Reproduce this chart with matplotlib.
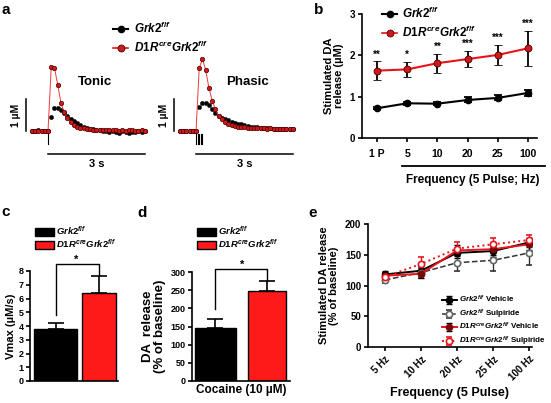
import matplotlib
matplotlib.use("Agg")
import matplotlib.pyplot as plt
import numpy as np
from matplotlib.lines import Line2D
from matplotlib.patches import Patch

plt.rcParams['font.family'] = ['Liberation Sans', 'DejaVu Sans']
plt.rcParams['font.weight'] = 'bold'
plt.rcParams['axes.labelweight'] = 'bold'
plt.rcParams['mathtext.fontset'] = 'custom'
plt.rcParams['mathtext.rm'] = 'Liberation Sans:bold'
plt.rcParams['mathtext.it'] = 'Liberation Sans:italic:bold'
plt.rcParams['mathtext.bf'] = 'Liberation Sans:bold'
plt.rcParams['axes.linewidth'] = 1.2
plt.rcParams['xtick.major.width'] = 1.2
plt.rcParams['ytick.major.width'] = 1.2
plt.rcParams['xtick.major.size'] = 3
plt.rcParams['ytick.major.size'] = 3

GRK = r'$Grk2^{f/f}$'
D1R = r'$D1R^{cre}Grk2^{f/f}$'

# ---- a: example traces (uM), sampled every 0.1 s from -0.5 s
t = np.round(np.arange(-0.5, 3.05, 0.1), 1)
tonic_ctrl = [0.01, 0.00, 0.02, 0.01, 0.00, 0.01,
              0.45, 0.72, 0.72, 0.66, 0.56, 0.46, 0.37, 0.30, 0.24, 0.19,
              0.14, 0.10, 0.07, 0.05, 0.03, 0.02, 0.01, -0.01, -0.03, 0.00,
              -0.02, -0.05, -0.01, -0.03, -0.06, -0.04, -0.02, 0.00, -0.03, -0.01]
tonic_ko = [0.00, 0.01, 0.00, 0.01, 0.00, 0.00,
            2.00, 1.97, 1.45, 0.88, 0.58, 0.42, 0.28, 0.19, 0.14, 0.10,
            0.08, 0.06, 0.05, 0.04, 0.03, 0.03, 0.02, 0.02, 0.02, 0.02,
            0.02, 0.01, 0.02, 0.01, 0.02, 0.02, 0.01, 0.01, 0.02, 0.01]
phasic_ctrl = [0.00, 0.01, 0.00, 0.01, 0.00, 0.01,
               0.75, 0.86, 0.88, 0.80, 0.68, 0.57, 0.48, 0.42, 0.37, 0.33,
               0.29, 0.26, 0.23, 0.21, 0.18, 0.16, 0.14, 0.13, 0.11, 0.10,
               0.09, 0.08, 0.08, 0.07, 0.06, 0.06, 0.05, 0.06, 0.05, 0.05]
phasic_ko = [0.00, 0.00, 0.01, 0.00, 0.00, 0.00,
             1.97, 2.25, 1.90, 1.35, 0.95, 0.68, 0.47, 0.36, 0.28, 0.23,
             0.19, 0.16, 0.14, 0.12, 0.11, 0.10, 0.10, 0.09, 0.09, 0.08,
             0.08, 0.07, 0.08, 0.07, 0.06, 0.07, 0.06, 0.06, 0.07, 0.06]
tonic_pulses = [0.0]
phasic_pulses = [0.0, 0.05, 0.10, 0.15, 0.20]

# ---- b
b_labels = ['1 P', '5', '10', '20', '25', '100']
b_ctrl = [0.72, 0.84, 0.83, 0.92, 0.97, 1.09]
b_ctrl_err = [0.03, 0.03, 0.03, 0.06, 0.06, 0.08]
b_ko = [1.63, 1.66, 1.81, 1.91, 2.01, 2.17]
b_ko_err = [0.23, 0.19, 0.23, 0.20, 0.25, 0.42]
b_stars = ['**', '*', '**', '***', '***', '***']

# ---- c
c_vals = [3.76, 6.42]
c_err = [0.43, 1.22]

# ---- d
d_vals = [145, 248]
d_err = [27, 27]

# ---- e
e_labels = ['5 Hz', '10 Hz', '20 Hz', '25 Hz', '100 Hz']
e_ctrl_veh = [118, 124, 153, 156, 170]
e_ctrl_veh_err = [6, 7, 8, 9, 8]
e_ctrl_sul = [109, 121, 137, 141, 153]
e_ctrl_sul_err = [5, 8, 14, 17, 19]
e_ko_veh = [116, 119, 157, 159, 167]
e_ko_veh_err = [5, 6, 9, 10, 9]
e_ko_sul = [114, 135, 160, 167, 174]
e_ko_sul_err = [6, 11, 11, 11, 8]

W, H = 551, 403
fig = plt.figure(figsize=(W / 100, H / 100), dpi=100)


def px_axes(l, t_, r, b):
    return fig.add_axes([l / W, 1 - b / H, (r - l) / W, (b - t_) / H])


def fx(x):
    return x / W


def fy(y):
    return 1 - y / H


RED = '#e8141c'

# ================= a =================
for left, ctrl, ko, pulses, name in [(15.7, tonic_ctrl, tonic_ko, tonic_pulses, 'Tonic'),
                                      (163.7, phasic_ctrl, phasic_ko, phasic_pulses, 'Phasic')]:
    ax = px_axes(left, 54.2, left + 135.7, 179)
    ax.set_xlim(-1.0, 3.2)
    ax.set_ylim(-1.5, 2.4)
    ax.axis('off')
    ax.plot(t, ctrl, 'o', color='black', ms=3.1, mew=0.4, mec='#222222')
    ax.plot(t, ko, '-o', color='#f03a3a', lw=0.7, ms=3.2, mfc='#cc1a1a',
            mec='#500000', mew=0.5)
    ax.plot([-0.68, -0.68], [0, 1], color='black', lw=1.1, clip_on=False)
    ax.text(-0.98, 0.5, '1 µM', rotation=90, ha='center', va='center',
            fontsize=7.5, clip_on=False)
    for p in pulses:
        ax.plot([p, p], [-0.1, -0.4], color='black', lw=0.8)
    ax.plot([0, 3], [-0.72, -0.72], color='black', lw=1.1)
    ax.text(1.5, -0.86, '3 s', ha='center', va='top', fontsize=8)
    ax.text(1.45 if name == 'Tonic' else 1.58, 1.53, name, ha='center',
            va='center', fontsize=9.5)

h_ctrl = Line2D([], [], color='black', lw=1.5, marker='o', ms=4.5)
h_ko = Line2D([], [], color=RED, lw=1.2, marker='o', ms=5, mfc='#cc1a1a',
              mec='#500000', mew=0.6)
fig.legend([h_ctrl, h_ko], [GRK, D1R], loc='upper left',
           bbox_to_anchor=(fx(107), fy(15)), frameon=False, fontsize=8.5,
           handlelength=1.3, handletextpad=0.5, borderpad=0,
           labelspacing=0.35)

# ================= b =================
axb = px_axes(362, 14, 537, 138)
xb = np.arange(len(b_labels))
axb.errorbar(xb, b_ctrl, yerr=b_ctrl_err, color='black', lw=1.5,
             marker='o', ms=4.5, capsize=3, elinewidth=1.3, capthick=1.3)
axb.errorbar(xb, b_ko, yerr=b_ko_err, color=RED, lw=1.5, marker='o', ms=5,
             mfc='#d01818', mec='#500000', mew=0.6, ecolor='black',
             capsize=3, elinewidth=1.3, capthick=1.3)
for x, v, e, s in zip(xb, b_ko, b_ko_err, b_stars):
    axb.text(x, v + e + 0.04, s, ha='center', va='bottom', fontsize=7)
axb.set_xlim(-0.5, 5.3)
axb.set_ylim(0, 3)
axb.set_yticks([0, 1, 2, 3])
axb.set_xticks(xb)
axb.set_xticklabels(b_labels)
axb.tick_params(labelsize=7.5, pad=5)
axb.tick_params(axis='y', labelsize=7, pad=2)
for s in ['top', 'right']:
    axb.spines[s].set_visible(False)
axb.set_ylabel('Stimulated DA\nrelease (µM)', fontsize=8, labelpad=4,
               linespacing=1.0)
fig.add_artist(Line2D([fx(402), fx(545)], [fy(166), fy(166)], color='black',
                      lw=1.3))
fig.text(fx(473), fy(180), 'Frequency (5 Pulse; Hz)', ha='center',
         va='center', fontsize=8.5)
axb.legend([h_ctrl, h_ko], [GRK, D1R], loc='upper left',
           bbox_to_anchor=(fx(376), fy(0)), bbox_transform=fig.transFigure,
           frameon=False, fontsize=8.5, handlelength=1.3, handletextpad=0.4,
           borderpad=0, labelspacing=0.35)

# ================= c =================
bar_h = [Patch(facecolor='black', edgecolor='black'),
         Patch(facecolor='#ff1a1a', edgecolor='black')]

axc = px_axes(30, 271, 118, 381)
axc.bar([0, 1], c_vals, width=[1.0, 0.8], color=['black', '#ff1a1a'],
        edgecolor='black', lw=1.0)
axc.errorbar([0, 1], c_vals, yerr=[[0, 0], c_err], fmt='none',
             ecolor='black', capsize=6, elinewidth=1.2, capthick=1.2)
axc.plot([0, 0, 1, 1], [4.8, 8.48, 8.48, 7.7], color='black', lw=1.0,
         clip_on=False)
axc.text(0.47, 8.45, '*', ha='center', va='bottom', fontsize=8,
         clip_on=False)
axc.set_xlim(-0.6, 1.44)
axc.set_ylim(0, 8)
axc.set_yticks(range(0, 9))
axc.set_xticks([])
axc.tick_params(labelsize=6.5, pad=1.5)
for s in ['top', 'right']:
    axc.spines[s].set_visible(False)
axc.set_ylabel('Vmax (µM/s)', fontsize=8, labelpad=2)
fig.legend(bar_h, [GRK, D1R], loc='upper left',
           bbox_to_anchor=(fx(30), fy(220)), frameon=False, fontsize=6.8,
           handlelength=2.0, handleheight=1.0, handletextpad=0.2,
           borderpad=0, labelspacing=0.05)

# ================= d =================
axd = px_axes(192, 272, 290, 381)
axd.bar([0, 1], d_vals, width=[0.8, 0.74], color=['black', '#ff1a1a'],
        edgecolor='black', lw=1.0)
axd.errorbar([0, 1], d_vals, yerr=[[0, 0], d_err], fmt='none',
             ecolor='black', capsize=6, elinewidth=1.2, capthick=1.2)
axd.plot([0, 0, 1, 1], [199, 309, 309, 275], color='black', lw=1.0,
         clip_on=False)
axd.text(0.51, 307, '*', ha='center', va='bottom', fontsize=8,
         clip_on=False)
axd.set_xlim(-0.456, 1.447)
axd.set_ylim(0, 300)
axd.set_yticks(range(0, 301, 50))
axd.set_xticks([])
axd.tick_params(labelsize=6.5, pad=1.5)
for s in ['top', 'right']:
    axd.spines[s].set_visible(False)
axd.set_ylabel('DA  release\n(% of baseline)', fontsize=9.5, labelpad=3,
               linespacing=1.0)
axd.set_xlabel('Cocaine (10 µM)', fontsize=8.5, labelpad=2)
fig.legend(bar_h, [GRK, D1R], loc='upper left',
           bbox_to_anchor=(fx(192), fy(220)), frameon=False, fontsize=6.8,
           handlelength=2.0, handleheight=1.0, handletextpad=0.2,
           borderpad=0, labelspacing=0.05)

# ================= e =================
axe = px_axes(368, 224, 532, 347)
xe = np.arange(len(e_labels))
kw = dict(capsize=2.5, elinewidth=1.0, capthick=1.0, ms=4.5)
l1 = axe.errorbar(xe, e_ctrl_veh, yerr=e_ctrl_veh_err, color='black',
                  ls='-', lw=1.4, marker='o', **kw)
l2 = axe.errorbar(xe, e_ctrl_sul, yerr=e_ctrl_sul_err, color='#333333',
                  ls='--', lw=1.1, marker='o', mfc='white', mec='#666666',
                  mew=1.2, **kw)
l3 = axe.errorbar(xe, e_ko_veh, yerr=e_ko_veh_err, color=RED, ls='-',
                  lw=1.4, marker='o', mfc='#7a0a0a', mec='#7a0a0a',
                  ecolor='black', **kw)
l4 = axe.errorbar(xe, e_ko_sul, yerr=e_ko_sul_err, color=RED, ls=':',
                  lw=1.4, marker='o', mfc='white', mec=RED, mew=1.2, **kw)
axe.set_xlim(-0.47, 4.08)
axe.set_ylim(0, 200)
axe.set_yticks(range(0, 201, 50))
axe.set_xticks(xe)
axe.set_xticklabels(e_labels, rotation=45, ha='right', rotation_mode='anchor')
axe.tick_params(labelsize=7, pad=2)
for s in ['top', 'right']:
    axe.spines[s].set_visible(False)
axe.set_ylabel('Stimulated DA release\n(% of baseline)', fontsize=8,
               labelpad=4, linespacing=1.0)
axe.set_xlabel('Frequency (5 Pulse)', fontsize=9, labelpad=3)
leg1 = axe.legend([l1, l2], [GRK + ' Vehicle', GRK + ' Sulpiride'],
                  loc='upper left', bbox_to_anchor=(fx(438), fy(290)),
                  bbox_transform=fig.transFigure, frameon=False,
                  fontsize=5.8, handlelength=1.8, handletextpad=0.3,
                  borderpad=0, labelspacing=0.35)
axe.add_artist(leg1)
axe.legend([l3, l4], [D1R + ' Vehicle', D1R + ' Sulpiride'],
           loc='upper left', bbox_to_anchor=(fx(438), fy(317)),
           bbox_transform=fig.transFigure, frameon=False, fontsize=5.8,
           handlelength=1.8, handletextpad=0.3, borderpad=0,
           labelspacing=0.35)

# panel letters
for letter, x, y in [('a', 6, 10), ('b', 319, 10), ('c', 6, 212),
                     ('d', 142, 213), ('e', 313, 213)]:
    fig.text(fx(x), fy(y), letter, fontsize=11, ha='center', va='center')

fig.savefig('out.png', dpi=100)
